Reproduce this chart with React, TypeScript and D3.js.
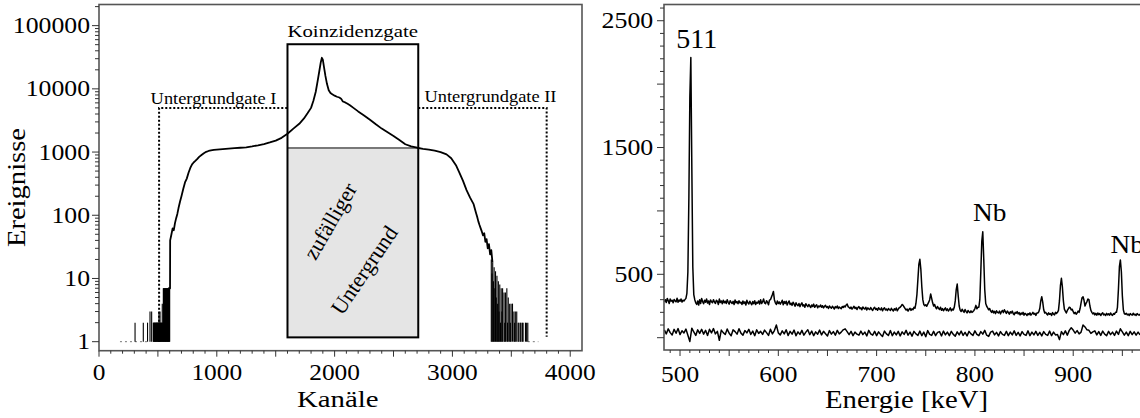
import React from 'react';
import * as d3 from 'd3';

const FONT = '"Liberation Serif", "Times New Roman", Times, serif';

// ---------------- LEFT PANEL DATA (Kanäle vs Ereignisse, log) ----------------
const leftXTicks = [0, 1000, 2000, 3000, 4000];
const leftYTicks = [1, 10, 100, 1000, 10000, 100000];
const leftYLabels = ['1', '10', '100', '1000', '10000', '100000'];

const curveChannels = [
  588, 600, 603, 604, 615, 625, 635, 645, 655, 665, 675, 688, 700, 715, 730, 745, 760, 775, 790, 805,
  820, 835, 850, 870, 890, 910, 930, 950, 975, 1000, 1050, 1100, 1150, 1200, 1250, 1300, 1350, 1400, 1450, 1500,
  1550, 1600, 1650, 1700, 1740, 1770, 1800, 1820, 1840, 1855, 1870, 1882, 1892, 1900, 1910, 1922, 1935, 1950, 1965, 1980,
  2000, 2020, 2040, 2055, 2070, 2090, 2110, 2130, 2160, 2200, 2250, 2300, 2350, 2400, 2450, 2500, 2550, 2600, 2650, 2700,
  2750, 2800, 2850, 2900, 2950, 2990, 3030, 3060, 3090, 3120, 3150, 3180, 3200, 3210, 3220, 3230, 3240, 3250, 3260, 3270,
  3280, 3290, 3300, 3310, 3320, 3330, 3340,
];
const curveCounts = [
  7, 7, 7, 40, 50, 62, 58, 75, 90, 105, 130, 165, 200, 260, 330, 380, 470, 560, 640, 690,
  730, 780, 840, 900, 960, 1010, 1040, 1060, 1080, 1090, 1110, 1130, 1150, 1170, 1190, 1230, 1280, 1340, 1420, 1520,
  1680, 1950, 2350, 2800, 3400, 4100, 5000, 6500, 9000, 13000, 19000, 26000, 31000, 29000, 22000, 16000, 12000, 9500, 8600, 8200,
  7800, 7500, 7300, 7000, 6300, 6100, 5800, 5500, 5000, 4400, 3800, 3250, 2750, 2350, 2050, 1800, 1550, 1330, 1230, 1170,
  1120, 1090, 1050, 1000, 920, 800, 620, 470, 350, 250, 190, 150, 110, 95, 80, 70, 62, 55, 48, 52,
  38, 42, 30, 35, 24, 28, 18,
];

// low-count stems (channel, counts)
const leftStemChannels = [
  306, 376, 412, 433, 447, 461, 464, 467, 470, 473, 476, 479, 482, 485, 488, 491, 494, 497, 500, 503,
  506, 509, 512, 515, 518, 521, 524, 527, 530, 533, 537, 540, 543, 546, 549, 552, 555, 558, 561, 564,
  567, 570, 573, 576, 579, 582, 585, 588, 591, 594, 597, 600,
];
const leftStemCounts = [
  2, 2, 2, 3, 3, 2, 2, 2, 2, 2, 2, 2, 2, 2, 2, 2, 2, 2, 2, 2,
  2, 3, 2, 2, 3, 2, 2, 2, 2, 2, 4, 2, 2, 7, 7, 7, 7, 7, 7, 7,
  7, 7, 7, 7, 7, 7, 7, 7, 7, 7, 7, 7,
];
const rightStemChannels = [
  3330, 3336, 3342, 3348, 3354, 3360, 3366, 3372, 3378, 3384, 3390, 3396, 3402, 3408, 3414, 3420, 3426, 3432, 3438, 3444,
  3450, 3456, 3462, 3468, 3474, 3480, 3486, 3492, 3498, 3504, 3510, 3516, 3522, 3528, 3534, 3540, 3546, 3552, 3558, 3564,
  3570, 3576, 3582, 3588, 3594, 3600, 3610, 3620, 3630, 3640,
];
const rightStemCounts = [
  20, 12, 18, 9, 15, 7, 13, 5, 11, 4, 9, 3, 8, 2, 7, 3, 7, 1, 6, 2,
  6, 1, 7, 2, 5, 1, 4, 2, 4, 1, 4, 1, 3, 2, 3, 1, 3, 1, 2, 2,
  1, 2, 2, 1, 2, 2, 1, 2, 2, 2,
];
const singleCountRanges = [[178, 433], [3640, 3730]];

const gateChannels = [1600, 2710];
const gateCounts = [1.17, 50800];
const randomLevel = 1160;
const bgGateI = [510, 1600];
const bgGateII = [2710, 3800];
const bgLevel = 5000;
const bgBottom = 1;

// ---------------- RIGHT PANEL DATA (Energie vs counts) ----------------
const rightXTicks = [500, 600, 700, 800, 900];
const rightYTicks = [500, 1500, 2500];
const upperStartKeV = 484; // 1 keV per value
const upperCounts = [
  285, 300, 278, 310, 292, 270, 305, 288, 296, 275,
  302, 290, 283, 312, 279, 298, 287, 305, 281, 296,
  290, 300, 310, 350, 520, 1100, 1900, 2210, 1350, 560,
  340, 300, 275, 262, 290, 258, 300, 270, 310, 285,
  268, 296, 280, 305, 273, 290, 262, 298, 284, 276,
  300, 282, 270, 295, 287, 262, 305, 278, 290, 268,
  296, 275, 288, 270, 300, 279, 265, 292, 280, 270,
  287, 262, 298, 275, 285, 268, 292, 274, 280, 262,
  290, 270, 283, 258, 295, 275, 266, 288, 272, 260,
  285, 268, 292, 262, 280, 273, 290, 266, 300, 270,
  282, 305, 275, 268, 292, 280, 260, 296, 300, 320,
  340, 365, 300, 275, 262, 290, 270, 282, 265, 278,
  295, 260, 285, 270, 288, 258, 276, 290, 262, 272,
  255, 280, 266, 248, 275, 260, 252, 270, 245, 262,
  275, 250, 260, 240, 268, 255, 245, 262, 250, 238,
  258, 246, 265, 240, 252, 260, 236, 250, 244, 258,
  240, 252, 235, 248, 256, 238, 246, 230, 250, 240,
  232, 248, 238, 226, 245, 236, 250, 230, 242, 235,
  228, 246, 238, 250, 242, 258, 265, 245, 238, 230,
  242, 225, 236, 248, 230, 240, 222, 238, 245, 228,
  236, 220, 242, 232, 226, 240, 218, 235, 228, 222,
  238, 225, 215, 232, 240, 222, 230, 216, 236, 225,
  220, 235, 212, 228, 236, 218, 226, 214, 230, 222,
  215, 232, 220, 210, 228, 218, 234, 212, 225, 236,
  240, 250, 262, 255, 242, 230, 218, 226, 210, 224,
  232, 215, 228, 220, 240, 232, 270, 340, 460, 580,
  618, 540, 400, 300, 262, 252, 260, 248, 265, 280,
  300, 345, 310, 275, 250, 262, 240, 228, 246, 232,
  222, 240, 216, 230, 212, 226, 235, 215, 228, 210,
  222, 235, 212, 226, 218, 240, 290, 380, 423, 330,
  250, 218, 206, 225, 210, 200, 222, 208, 195, 215,
  205, 198, 212, 200, 206, 215, 230, 255, 228, 240,
  240, 300, 520, 760, 836, 620, 380, 270, 248, 235,
  220, 230, 210, 200, 215, 196, 208, 190, 212, 200,
  195, 210, 188, 205, 215, 198, 220, 206, 192, 210,
  200, 186, 205, 195, 210, 190, 182, 200, 193, 206,
  188, 198, 180, 195, 185, 200, 178, 192, 186, 175,
  190, 182, 196, 178, 188, 200, 185, 192, 176, 195,
  195, 205, 230, 290, 323, 280, 220, 195, 200, 188,
  180, 196, 185, 190, 175, 198, 186, 180, 200, 192,
  200, 215, 290, 410, 468, 400, 290, 225, 210, 195,
  215, 228, 240, 236, 218, 225, 205, 190, 200, 185,
  195, 210, 200, 230, 275, 315, 323, 295, 250, 270,
  285, 305, 300, 250, 215, 200, 188, 196, 180, 192,
  178, 195, 182, 190, 175, 188, 196, 180, 186, 175,
  192, 180, 188, 178, 195, 182, 176, 190, 185, 200,
  200, 240, 380, 560, 613, 520, 330, 220, 190, 185,
  192, 180, 186, 175, 190, 182, 178, 193, 180, 185,
  176, 190, 182, 178, 186,
];
const lowerStartKeV = 484; // 2 keV per value
const lowerCounts = [
  62, 30, 70, 40, 22, 66, 35, 72, 25, 55,
  38, 68, 20, -30, 75, 45, 18, 62, 34, 66,
  28, 58, 18, 66, 38, 72, 30, 50, -20, 60,
  40, 25, 68, 35, 15, 62, 48, 28, 70, 36,
  20, 56, 38, 66, 26, 52, 16, 62, 34, 50,
  26, 60, 40, 18, 66, 30, 56, 100, 38, 22,
  54, 30, 62, 18, 50, 28, 60, 16, 46, 26,
  58, 20, 44, 62, 24, 52, 16, 46, 28, 60,
  22, 50, 32, 14, 56, 28, 48, 20, 58, 30,
  44, 62, 70, 48, 24, 50, 16, 44, 28, 20,
  52, 24, 44, 14, 58, 30, 20, 50, 16, 46,
  26, 10, 52, 30, 18, 56, 16, 44, 22, 50,
  14, 46, 26, 58, 20, 44, 12, 50, 30, 18,
  52, 16, 44, 8, 56, 26, 18, 50, 16, 42,
  48, 14, 52, 22, 44, 16, 50, 26, 12, 46,
  22, 52, 18, 42, 14, 50, 30, 18, 54, 26,
  16, 48, 28, 58, 20, 10, 44, 52, 22, 42,
  14, 48, 26, 18, 50, 16, 44, 22, 54, 18,
  42, 14, 48, 26, 18, 54, 16, 44, 22, 50,
  18, 42, 14, 48, 26, 18, 52, 16, 44, 22,
  26, -15, 48, 24, 54, 20, 58, 78, 60, 36,
  56, 30, 44, 100, 85, 62, 58, 34, 46, 54,
  22, 48, 18, 52, 28, 16, 50, 24, 44, 18,
  52, 26, 70, 46, 20, 44, 16, 50, 24, 46,
  20, 44, 22,
];
const peakLabelTexts = ['511', 'Nb', 'Nb'];
const peakLabelEnergies = [517, 815, 938];
const peakLabelCounts = [2282, 923, 666];
const peakLabelAnchors = ['middle', 'middle', 'start'];

type STextProps = {
  x: number; y: number; size: number; sx?: number; anchor?: string; rotate?: number; children: React.ReactNode; dy?: string;
};
function SText({ x, y, size, sx = 1, anchor = 'middle', rotate = 0, children, dy }: STextProps) {
  return (
    <text
      transform={`translate(${x},${y}) rotate(${rotate}) scale(${sx},1)`}
      fontSize={size}
      textAnchor={anchor as any}
      fontFamily={FONT}
      fill="#000"
      dy={dy}
    >
      {children}
    </text>
  );
}

export default function App() {
  // Left scales
  const xL = d3.scaleLinear().domain([0, 4100]).range([99, 582]);
  const yL = d3.scaleLog().domain([0.72, 216000]).range([350.7, 4.5]);
  // Right scales
  const xR = d3.scaleLinear().domain([483.7, 1000]).range([664, 1171.5]);
  const yR = d3.scaleLinear().domain([-97, 2628]).range([350, 4.5]);

  const lineL = d3.line<[number, number]>().x((d) => xL(d[0])).y((d) => yL(d[1]));
  const curvePts: [number, number][] = curveChannels.map((c, i) => [c, curveCounts[i]]);

  const lineR = d3.line<[number, number]>().x((d) => xR(d[0])).y((d) => yR(d[1]));
  const upperPts: [number, number][] = upperCounts.map((v, i) => [upperStartKeV + i, v]);
  const lowerPts: [number, number][] = lowerCounts.map((v, i) => [lowerStartKeV + 2 * i, v]);

  const lxMinor = d3.range(0, 4100, 100);
  const lyMinor: number[] = [];
  for (let e = 0; e <= 5; e++) for (let m = 1; m <= 9; m++) {
    const v = m * Math.pow(10, e);
    if (v <= 216000) lyMinor.push(v);
  }
  const rxMinor = d3.range(490, 1000, 10);
  const ryMinor = d3.range(0, 2700, 100);

  const [yB, yT] = [yL.range()[0], yL.range()[1]];
  const [rB, rT] = [yR.range()[0], yR.range()[1]];

  const frame = '#555';
  const tickC = '#333';

  return (
    <svg width={1140} height={418} style={{ position: 'absolute', left: 0, top: 0, background: '#fff' }}>
      <rect x={0} y={0} width={1140} height={418} fill="#fff" />
      {/* ================= LEFT PANEL ================= */}
      <g>
        <rect
          x={xL(gateChannels[0])}
          y={yL(randomLevel)}
          width={xL(gateChannels[1]) - xL(gateChannels[0])}
          height={yL(gateCounts[0]) - yL(randomLevel)}
          fill="#e5e5e5"
        />
        <line x1={xL(gateChannels[0])} x2={xL(gateChannels[1])} y1={yL(randomLevel)} y2={yL(randomLevel)} stroke="#000" strokeWidth={1} />
        <path
          d={`M${xL(bgGateI[0])},${yL(bgBottom)} L${xL(bgGateI[0])},${yL(bgLevel)} L${xL(bgGateI[1])},${yL(bgLevel)}`}
          fill="none" stroke="#000" strokeWidth={2} strokeDasharray="2,2"
        />
        <path
          d={`M${xL(bgGateII[0])},${yL(bgLevel)} L${xL(bgGateII[1])},${yL(bgLevel)} L${xL(bgGateII[1])},${yL(1.2)}`}
          fill="none" stroke="#000" strokeWidth={2} strokeDasharray="2,2"
        />
        {singleCountRanges.map((r, i) => (
          <line key={'sc' + i} x1={xL(r[0])} x2={xL(r[1])} y1={yL(1)} y2={yL(1)} stroke="#777" strokeWidth={1} strokeDasharray="2,3" />
        ))}
        {leftStemChannels.map((c, i) => (
          <line key={'ls' + i} x1={xL(c)} x2={xL(c)} y1={yL(1)} y2={yL(leftStemCounts[i])} stroke="#000" strokeWidth={1.1} />
        ))}
        {rightStemChannels.map((c, i) => (
          <line key={'rs' + i} x1={xL(c)} x2={xL(c)} y1={yL(1)} y2={yL(rightStemCounts[i])} stroke="#000" strokeWidth={1.1} />
        ))}
        <path d={lineL(curvePts) || ''} fill="none" stroke="#000" strokeWidth={1.8} strokeLinejoin="round" />
        <rect
          x={xL(gateChannels[0])}
          y={yL(gateCounts[1])}
          width={xL(gateChannels[1]) - xL(gateChannels[0])}
          height={yL(gateCounts[0]) - yL(gateCounts[1])}
          fill="none" stroke="#000" strokeWidth={2}
        />
        <rect x={xL.range()[0]} y={yT} width={xL.range()[1] - xL.range()[0]} height={yB - yT} fill="none" stroke={frame} strokeWidth={1.6} />
        {lxMinor.map((v) => (
          <line key={'lxm' + v} x1={xL(v)} x2={xL(v)} y1={yB} y2={yB + (v % 500 === 0 ? 6 : 3)} stroke={tickC} strokeWidth={1} />
        ))}
        {leftXTicks.map((v) => (
          <SText key={'lxl' + v} x={xL(v)} y={380} size={22.5} sx={1.13}>{String(v)}</SText>
        ))}
        {lyMinor.map((v, i) => (
          <line key={'lym' + i} x1={99 - (leftYTicks.includes(v) ? 7 : 4)} x2={99} y1={yL(v)} y2={yL(v)} stroke={tickC} strokeWidth={1} />
        ))}
        {leftYTicks.map((v, i) => (
          <SText key={'lyl' + v} x={90} y={yL(v) + 7.5} size={23} sx={1.12} anchor="end">{leftYLabels[i]}</SText>
        ))}
        <SText x={337.7} y={407.3} size={24} sx={1.2}>Kanäle</SText>
        <SText x={24.5} y={187.5} size={26} sx={1.1} rotate={-90}>Ereignisse</SText>
        <SText x={352.7} y={36.7} size={17.5} sx={1.19}>Koinzidenzgate</SText>
        <SText x={213.5} y={104} size={16} sx={1.15}>Untergrundgate I</SText>
        <SText x={490.5} y={102} size={16} sx={1.15}>Untergrundgate II</SText>
        <SText x={330} y={221} size={22} rotate={-60} dy="0.35em">zufälliger</SText>
        <SText x={364} y={270} size={22} rotate={-56} dy="0.35em">Untergrund</SText>
      </g>

      {/* ================= RIGHT PANEL ================= */}
      <g>
        <path d={lineR(upperPts) || ''} fill="none" stroke="#000" strokeWidth={1.5} strokeLinejoin="round" />
        <path d={lineR(lowerPts) || ''} fill="none" stroke="#000" strokeWidth={1.5} strokeLinejoin="round" />
        <rect x={xR.range()[0]} y={rT} width={xR.range()[1] - xR.range()[0]} height={rB - rT} fill="none" stroke={frame} strokeWidth={1.6} />
        {rxMinor.map((v) => (
          <line key={'rxm' + v} x1={xR(v)} x2={xR(v)} y1={rB} y2={rB + (v % 50 === 0 ? 6 : 3)} stroke={tickC} strokeWidth={1} />
        ))}
        {rightXTicks.map((v) => (
          <SText key={'rxl' + v} x={xR(v)} y={381.7} size={22.5} sx={1.13}>{String(v)}</SText>
        ))}
        {ryMinor.map((v) => (
          <line key={'rym' + v} x1={664 - (v % 500 === 0 ? 7 : 4)} x2={664} y1={yR(v)} y2={yR(v)} stroke={tickC} strokeWidth={1} />
        ))}
        {rightYTicks.map((v) => (
          <SText key={'ryl' + v} x={653.3} y={yR(v) + 7.5} size={22.5} sx={1.15} anchor="end">{String(v)}</SText>
        ))}
        <SText x={906.5} y={408.3} size={25} sx={1.15}>Energie [keV]</SText>
        {peakLabelTexts.map((t, i) => (
          <SText key={'pl' + i} x={xR(peakLabelEnergies[i])} y={yR(peakLabelCounts[i])} size={i === 0 ? 28 : 26} sx={i === 0 ? 1 : 1.05} anchor={peakLabelAnchors[i]}>{t}</SText>
        ))}
      </g>
    </svg>
  );
}
